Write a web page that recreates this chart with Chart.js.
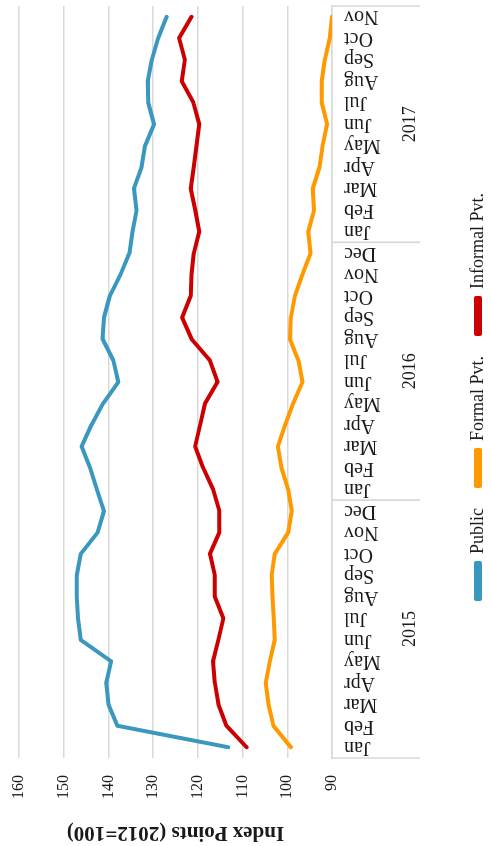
<!DOCTYPE html>
<html lang="en">
<head>
<meta charset="UTF-8">
<title>Index Points (2012=100)</title>
<style>
  html, body { margin: 0; padding: 0; background: #ffffff; overflow: hidden; }
  #wrap { position: relative; width: 491px; height: 846px; }
  /* chart is drawn landscape, then turned a quarter anticlockwise */
  #chartCanvas {
    position: absolute; left: 0; top: 0;
    transform-origin: 0 0;
    transform: translate(0, 846px) rotate(-90deg);
  }
</style>
</head>
<body>
<div id="wrap"><canvas id="chartCanvas" width="846" height="491"></canvas></div>

<script src="https://cdn.jsdelivr.net/npm/chart.js@4.4.1/dist/chart.umd.min.js"></script>
<script>
const months = [
  'Jan','Feb','Mar','Apr','May','Jun','Jul','Aug','Sep','Oct','Nov','Dec',
  'Jan','Feb','Mar','Apr','May','Jun','Jul','Aug','Sep','Oct','Nov','Dec',
  'Jan','Feb','Mar','Apr','May','Jun','Jul','Aug','Sep','Oct','Nov'
];
const years = ['2015', '2016', '2017'];
const monthsPerYear = [12, 12, 11];
const yTicks = [90, 100, 110, 120, 130, 140, 150, 160];

const publicIdx = [
  113.2, 138.0, 140.0, 140.5, 139.4, 146.2, 146.8, 147.1, 147.1, 146.2, 142.4, 141.0,
  142.6, 144.1, 146.0, 143.8, 141.2, 137.8, 138.9, 141.3, 141.0, 139.7, 137.3, 135.3,
  134.6, 133.7, 134.3, 132.6, 131.8, 129.8, 131.1, 131.2, 130.3, 128.9, 127.0
];
const formalIdx = [
  99.2, 103.1, 104.2, 104.8, 103.9, 102.8, 103.0, 103.3, 103.5, 102.8, 99.8, 99.0,
  99.8, 101.3, 102.1, 100.5, 98.7, 96.6, 97.5, 99.4, 99.2, 98.3, 96.6, 94.8,
  95.3, 94.0, 94.3, 92.8, 92.1, 91.1, 92.3, 92.3, 91.6, 90.5, 90.0
];
const informalIdx = [
  109.1, 113.6, 115.4, 116.2, 116.6, 115.4, 114.3, 116.2, 116.2, 117.3, 115.2, 115.2,
  116.6, 118.8, 120.6, 119.5, 118.4, 115.6, 117.3, 121.4, 123.5, 121.6, 121.4, 120.9,
  119.7, 120.6, 121.6, 120.9, 120.3, 119.7, 121.0, 123.6, 122.9, 124.2, 121.4
];

const serif = '"Liberation Serif", "Times New Roman", serif';
const gridGray = '#d9d9d9';

// second row of the category axis: year names and the long separator ticks
const yearAxis = {
  id: 'yearAxis',
  afterLayout(chart) {
    // nudge the legend so it sits under the plot like the original
    const lg = chart.legend;
    lg.left += 30; lg.right += 30;
    lg.top += 6; lg.bottom += 6;
  },
  afterDraw(chart) {
    const { ctx, chartArea, scales: { x } } = chart;
    const half = (x.getPixelForValue(1) - x.getPixelForValue(0)) / 2;
    const top = chartArea.bottom;
    ctx.save();
    ctx.strokeStyle = gridGray;
    ctx.lineWidth = 1.5;
    ctx.fillStyle = '#1a1a1a';
    ctx.font = '18px ' + serif;
    ctx.textAlign = 'center';
    ctx.textBaseline = 'middle';
    let start = 0;
    years.forEach((yr, i) => {
      const end = start + monthsPerYear[i] - 1;
      const x0 = x.getPixelForValue(start) - half;
      const x1 = x.getPixelForValue(end) + half;
      ctx.beginPath();
      ctx.moveTo(x0, top);
      ctx.lineTo(x0, top + 88);
      ctx.moveTo(x1, top);
      ctx.lineTo(x1, top + 88);
      ctx.stroke();
      ctx.fillText(yr, (x0 + x1) / 2, top + 78);
      start = end + 1;
    });
    ctx.restore();
  }
};

function series(label, data, color) {
  return {
    label: label,
    data: data,
    borderColor: color,
    backgroundColor: color,
    borderWidth: 4,
    pointRadius: 0,
    tension: 0,
    fill: false,
    borderCapStyle: 'round',
    borderJoinStyle: 'round'
  };
}

const ctx = document.getElementById('chartCanvas').getContext('2d');
new Chart(ctx, {
  type: 'line',
  data: {
    labels: months,
    datasets: [
      series('Public', publicIdx, '#3a97be'),
      series('Formal Pvt.', formalIdx, '#ff9900'),
      series('Informal Pvt.', informalIdx, '#cc0000')
    ]
  },
  options: {
    responsive: false,
    animation: false,
    layout: { padding: { top: 19, left: 0, right: 6, bottom: 0 } },
    plugins: {
      legend: {
        position: 'bottom',
        labels: {
          font: { family: serif, size: 18 },
          color: '#1a1a1a',
          boxWidth: 36,
          boxHeight: 4,
          padding: 22
        }
      },
      tooltip: { enabled: false }
    },
    scales: {
      x: {
        offset: true,
        grid: { display: false, drawTicks: false },
        border: { display: true, color: gridGray, width: 1.5 },
        ticks: {
          autoSkip: false,
          minRotation: 90,
          maxRotation: 90,
          padding: 12,
          color: '#1a1a1a',
          font: { family: serif, size: 20 }
        },
        afterFit(scale) {
          scale.height = 109;
          scale.paddingLeft = 0;
          scale.paddingRight = 0;
        }
      },
      y: {
        min: 90,
        max: 160,
        afterBuildTicks(scale) { scale.ticks = yTicks.map(v => ({ value: v })); },
        grid: { color: gridGray, lineWidth: 1.5, drawTicks: false },
        border: { display: false },
        ticks: {
          padding: 17,
          color: '#1a1a1a',
          font: { family: serif, size: 16 }
        },
        title: {
          display: true,
          text: 'Index Points (2012=100)',
          color: '#1a1a1a',
          font: { family: serif, size: 21, weight: 'bold' },
          padding: { top: 1, bottom: 0 }
        },
        afterFit(scale) {
          scale.width = 88;
          scale.paddingTop = 0;
          scale.paddingBottom = 0;
        }
      }
    }
  },
  plugins: [yearAxis]
});
</script>
</body>
</html>
